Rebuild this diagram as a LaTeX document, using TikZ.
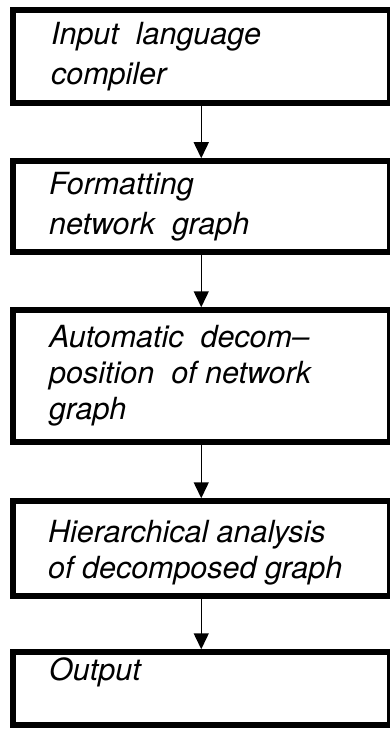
\documentclass[tikz,border=0pt]{standalone}
\usepackage{fontspec}
\setmainfont{TeX Gyre Heros}
\usetikzlibrary{positioning, arrows.meta, calc}

\tikzset{
    stage/.style={draw, line width=5.5pt, minimum width=376.5pt, inner sep=0pt},
    stagetext/.style={anchor=base west, inner sep=0pt,
        font=\fontsize{30.5}{36}\selectfont\itshape},
    flow/.style={line width=1.5pt, -{Triangle[length=16pt, width=15pt]}}
}
\newcommand{\stagelines}[1]{\begin{tabular}[t]{@{}l@{}}#1\end{tabular}}

\begin{document}
\begin{tikzpicture}[x=1pt, y=-1pt]
    % Fix the page to the size of the scan
    \useasboundingbox (0,0) rectangle (389,730);

    % Draw the five stages of the program (the right edge runs off the page)
    \node[stage, minimum height=93pt]  (compiler) at (201.25,56.5) {};
    \node[stage, minimum height=91pt]  (format)   at (201.25,206.5) {};
    \node[stage, minimum height=132pt] (decomp)   at (201.25,376) {};
    \node[stage, minimum height=95pt]  (analysis) at (201.25,548.5) {};
    \node[stage, minimum height=73pt]  (output)   at (201.25,688.5) {};

    % Write the text in the top left of each stage
    \node[stagetext] at (51,45)  {\stagelines{Input\ \ language\\[4pt]compiler}};
    \node[stagetext] at (49,194) {\stagelines{Formatting\\[4pt]network\ \ graph}};
    \node[stagetext] at (49,347) {\stagelines{Automatic\ \ decom--\\position\ \ of network\\graph}};
    \node[stagetext] at (48,542) {\stagelines{Hierarchical analysis\\of decomposed graph}};
    \node[stagetext] at (49,680) {Output};

    % Connect the stages from top to bottom
    \draw[flow] (compiler) -- (format);
    \draw[flow] (format) -- (decomp);
    \draw[flow] (decomp) -- (analysis);
    \draw[flow] (analysis) -- (output);
\end{tikzpicture}
\end{document}
